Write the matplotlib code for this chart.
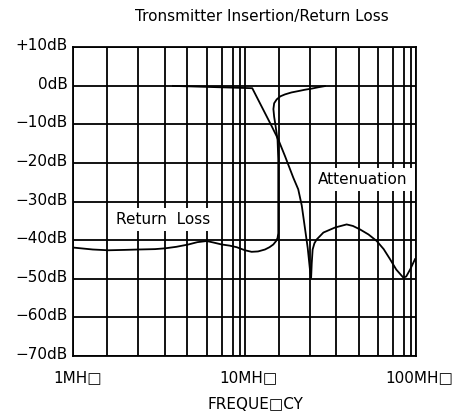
import matplotlib
matplotlib.use("Agg")
import matplotlib.pyplot as plt
import matplotlib.transforms as mtransforms

# return loss curve (MHz, dB)
rl_freq = [1.00, 1.30, 1.60, 2.00, 2.40, 3.00, 3.43, 4.00, 4.70, 5.30, 6.01,
           6.60, 7.36, 8.20, 9.00, 10.07, 11.0, 12.0, 13.17, 14.0, 14.73,
           15.30, 15.60, 15.75, 15.75, 15.75, 15.60, 15.20, 14.90, 14.75,
           14.90, 15.42, 16.20, 17.24, 18.80, 20.6, 22.5, 24.7, 27.0, 29.5]
rl_db = [-41.9, -42.4, -42.6, -42.5, -42.4, -42.3, -42.1, -41.7, -41.1, -40.5,
         -40.2, -40.6, -41.1, -41.4, -41.8, -42.6, -43.0, -42.9, -42.4, -41.8,
         -41.1, -40.2, -39.4, -38.2, -29.4, -19.0, -14.0, -10.5, -8.0, -6.0,
         -4.5, -3.5, -2.7, -2.2, -1.7, -1.35, -1.0, -0.7, -0.35, -0.05]

# insertion loss / attenuation curve (MHz, dB)
att_freq = [3.82, 11.1, 14.4, 15.75, 17.24, 19.28, 20.6, 21.6, 22.6, 23.4,
            24.1, 24.5, 24.7, 25.0, 25.6, 26.4, 28.9, 33.8, 39.5, 43.0, 47.3,
            53.0, 59.2, 65.0, 70.8, 77.0, 84.7, 88.0, 93.0, 99.1]
att_db = [0.0, -0.6, -10.4, -13.9, -18.2, -23.8, -26.8, -31.0, -37.2, -42.0,
          -47.5, -49.7, -46.0, -42.4, -40.8, -39.8, -38.0, -36.7, -35.9, -36.3,
          -37.2, -38.5, -40.2, -42.3, -44.9, -47.6, -49.7, -49.4, -47.5, -44.9]

db_ticks = [10, 0, -10, -20, -30, -40, -50, -60, -70]
db_labels = ["+10dB", "0dB", "\u221210dB", "\u221220dB", "\u221230dB",
             "\u221240dB", "\u221250dB", "\u221260dB", "\u221270dB"]
freq_ticks = [1, 10, 100]
freq_labels = ["1MH\u25a1", "10MH\u25a1", "100MH\u25a1"]
# odd spacing of the printed grid inside each decade
grid_mult = [1.58, 2.4, 3.43, 4.64, 6.03, 7.4, 8.6, 9.42]

plt.rcParams['font.family'] = ['DejaVu Sans']
fig = plt.figure(figsize=(4.64, 4.11), dpi=100)
ax = fig.add_axes([0.158, 0.1338, 0.7379, 0.7511])

ax.set_xscale('log')
ax.set_xlim(1, 100)
ax.set_ylim(-70, 10)

minor = [m * d for d in (1, 10) for m in grid_mult]
ax.set_xticks(freq_ticks, freq_labels, fontsize=11)
ax.set_xticks(minor, minor=True)
ax.xaxis.set_minor_formatter(matplotlib.ticker.NullFormatter())
ax.set_yticks(db_ticks, db_labels, fontsize=11)
ax.tick_params(which='both', length=0)
ax.tick_params(axis='x', pad=10)
ax.tick_params(axis='y', pad=4)

for lab in ax.get_xticklabels():
    lab.set_transform(lab.get_transform() + mtransforms.ScaledTranslation(0.04, 0, fig.dpi_scale_trans))
for lab in ax.get_yticklabels():
    lab.set_transform(lab.get_transform() + mtransforms.ScaledTranslation(0, 0.03, fig.dpi_scale_trans))

ax.grid(which='both', axis='x', color='black', lw=1.3)
ax.grid(which='major', axis='y', color='black', lw=1.3)
ax.set_axisbelow(True)
for s in ax.spines.values():
    s.set_linewidth(1.3)

ax.plot(rl_freq, rl_db, color='black', lw=1.3, zorder=3)
ax.plot(att_freq, att_db, color='black', lw=1.3, zorder=3)

ax.text(3.34, -34.6, "Return  Loss", fontsize=11, ha='center', va='center',
        bbox=dict(facecolor='white', edgecolor='none', pad=3), zorder=4)
ax.text(49.2, -24.2, "Attenuation", fontsize=11, ha='center', va='center',
        bbox=dict(facecolor='white', edgecolor='none', pad=3), zorder=4)

fig.text(261.7 / 464, 1 - 16.5 / 411, "Tronsmitter Insertion/Return Loss",
         fontsize=11, ha='center', va='center')
fig.text(255 / 464, 1 - 404 / 411, "FREQUE\u25a1CY", fontsize=11,
         ha='center', va='center')

fig.savefig("out.png", dpi=100)
